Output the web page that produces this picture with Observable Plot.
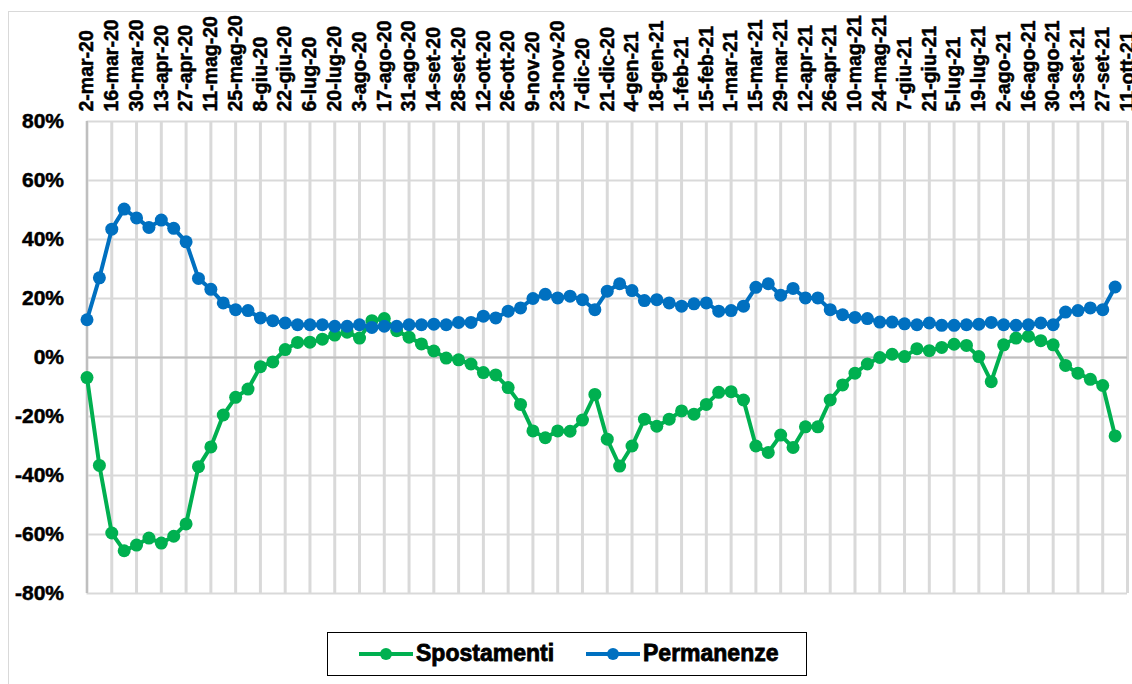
<!DOCTYPE html>
<html>
<head>
<meta charset="utf-8">
<script src="https://cdn.jsdelivr.net/npm/d3@7"></script>
<script src="https://cdn.jsdelivr.net/npm/@observablehq/plot@0.6"></script>
<style>
  html, body { margin: 0; padding: 0; background: #fff; }
  body { width: 1132px; height: 684px; overflow: hidden; position: relative; font-family: "Liberation Sans", Arial, sans-serif; }
  #frame { position: absolute; left: 8px; top: 11px; width: 1200px; height: 720px; border: 1.5px solid #d9d9d9; box-sizing: border-box; }
  #chart { position: absolute; left: 0; top: 0; }
  #chart svg text { stroke: #000; stroke-width: 0.5px; }
  #legend { position: absolute; left: 327px; top: 632px; width: 480px; height: 44px; border: 1.5px solid #000; box-sizing: border-box; background: #fff; }
  .item { position: absolute; top: 0; height: 41px; display: flex; align-items: center; }
  .item span { font-weight: bold; font-size: 23px; color: #000; -webkit-text-stroke: 0.8px #000; margin-left: 3px; }
</style>
</head>
<body>
<div id="frame"></div>
<div id="chart"></div>
<div id="legend"></div>
<script>
// Weekly series, first week 2-mar-20 (84 weeks, last 4-ott-21)
const startDate = "2020-03-02";
const seriesNames = ["Spostamenti", "Permanenze"];
const seriesColors = ["#00B050", "#0070C0"];

const spostamenti = [
  -6.8, -36.6, -59.5, -65.5, -63.6, -61.2, -62.9, -60.6, -56.4, -37.0,
  -30.3, -19.5, -13.5, -10.7, -3.1, -1.5, 2.7, 5.1, 5.2, 6.2,
  7.6, 8.6, 6.6, 12.5, 13.2, 9.1, 6.9, 4.6, 2.2, -0.2,
  -0.8, -2.2, -5.1, -5.9, -10.2, -15.9, -24.9, -27.2, -24.9, -25.0,
  -21.2, -12.5, -27.7, -36.8, -30.0, -20.9, -23.3, -20.9, -18.1, -19.2,
  -15.9, -11.8, -11.6, -14.4, -30.0, -32.2, -26.3, -30.5, -23.5, -23.5,
  -14.4, -9.3, -5.3, -2.2, 0.0, 1.1, 0.3, 3.0, 2.3, 3.4,
  4.5, 4.1, 0.3, -8.2, 4.3, 6.6, 7.2, 5.7, 4.3, -2.7,
  -5.3, -7.4, -9.5, -26.6
];

const permanenze = [
  12.8, 27.0, 43.5, 50.3, 47.3, 44.1, 46.6, 43.8, 39.2, 26.8,
  23.1, 18.5, 16.2, 15.9, 13.4, 12.5, 11.7, 11.1, 11.1, 11.1,
  10.6, 10.6, 11.1, 10.2, 10.6, 10.6, 11.1, 11.1, 11.3, 11.1,
  11.9, 11.9, 14.0, 13.4, 15.7, 16.8, 20.0, 21.4, 20.2, 20.8,
  19.6, 16.2, 22.5, 25.0, 22.7, 19.3, 19.6, 18.5, 17.4, 18.2,
  18.5, 15.7, 15.9, 17.4, 23.8, 25.0, 21.1, 23.4, 20.2, 20.2,
  16.2, 14.5, 13.6, 13.2, 12.0, 12.0, 11.4, 11.1, 11.7, 10.9,
  10.9, 11.1, 11.3, 11.9, 11.1, 10.9, 11.1, 11.7, 11.1, 15.4,
  15.9, 16.8, 16.2, 23.9
];

const tickLabels = [
  "2-mar-20", "16-mar-20", "30-mar-20", "13-apr-20", "27-apr-20", "11-mag-20", "25-mag-20",
  "8-giu-20", "22-giu-20", "6-lug-20", "20-lug-20", "3-ago-20", "17-ago-20", "31-ago-20",
  "14-set-20", "28-set-20", "12-ott-20", "26-ott-20", "9-nov-20", "23-nov-20", "7-dic-20",
  "21-dic-20", "4-gen-21", "18-gen-21", "1-feb-21", "15-feb-21", "1-mar-21", "15-mar-21",
  "29-mar-21", "12-apr-21", "26-apr-21", "10-mag-21", "24-mag-21", "7-giu-21", "21-giu-21",
  "5-lug-21", "19-lug-21", "2-ago-21", "16-ago-21", "30-ago-21", "13-set-21", "27-set-21",
  "11-ott-21"
];

const yTicks = [-80, -60, -40, -20, 0, 20, 40, 60, 80];

// Build table
const start = new Date(startDate + "T00:00:00Z");
const weekDate = i => d3.utcDay.offset(start, 7 * i);
const tickDates = tickLabels.map((_, i) => weekDate(2 * i));
const labelByTime = new Map(tickDates.map((d, i) => [d.getTime(), tickLabels[i]]));
const rowsS = spostamenti.map((v, i) => ({date: weekDate(i), value: v}));
const rowsP = permanenze.map((v, i) => ({date: weekDate(i), value: v}));

const plot = Plot.plot({
  width: 1132,
  height: 600,
  marginLeft: 86.5,
  marginRight: 5,
  marginTop: 121,
  marginBottom: 7,
  style: {fontFamily: "'Liberation Sans', Arial, sans-serif", background: "transparent", overflow: "visible", color: "#000"},
  x: {type: "utc", domain: [tickDates[0], tickDates[tickDates.length - 1]], label: null},
  y: {domain: [-80, 80], label: null},
  marks: [
    Plot.ruleX(tickDates, {stroke: "#d9d9d9", strokeWidth: 3}),
    Plot.ruleY(yTicks, {stroke: "#d9d9d9", strokeWidth: 2}),
    Plot.ruleY([0], {stroke: "#bfbfbf", strokeWidth: 2}),
    Plot.ruleX([tickDates[0]], {stroke: "#bfbfbf", strokeWidth: 2}),
    Plot.axisY({ticks: yTicks, tickSize: 0, tickPadding: 23, tickFormat: d => d + "%", fontSize: 21, fontWeight: "bold", label: null}),
    Plot.axisX({anchor: "top", ticks: tickDates, tickSize: 0, tickPadding: 10, tickRotate: -90,
      tickFormat: d => labelByTime.get(d.getTime()), fontSize: 19.5, fontWeight: "bold", label: null}),
    Plot.line(rowsS, {x: "date", y: "value", stroke: seriesColors[0], strokeWidth: 4}),
    Plot.dot(rowsS, {x: "date", y: "value", fill: seriesColors[0], r: 6.5}),
    Plot.line(rowsP, {x: "date", y: "value", stroke: seriesColors[1], strokeWidth: 4}),
    Plot.dot(rowsP, {x: "date", y: "value", fill: seriesColors[1], r: 6.5})
  ]
});
document.getElementById("chart").appendChild(plot);

// Legend
const legend = document.getElementById("legend");
const legendX = [31, 258];
seriesNames.forEach((name, i) => {
  const item = document.createElement("div");
  item.className = "item";
  item.style.left = legendX[i] + "px";
  item.innerHTML = `<svg width="54" height="14"><line x1="0" x2="54" y1="7" y2="7" stroke="${seriesColors[i]}" stroke-width="4"/><circle cx="27" cy="7" r="6" fill="${seriesColors[i]}"/></svg><span>${name}</span>`;
  legend.appendChild(item);
});
</script>
</body>
</html>
